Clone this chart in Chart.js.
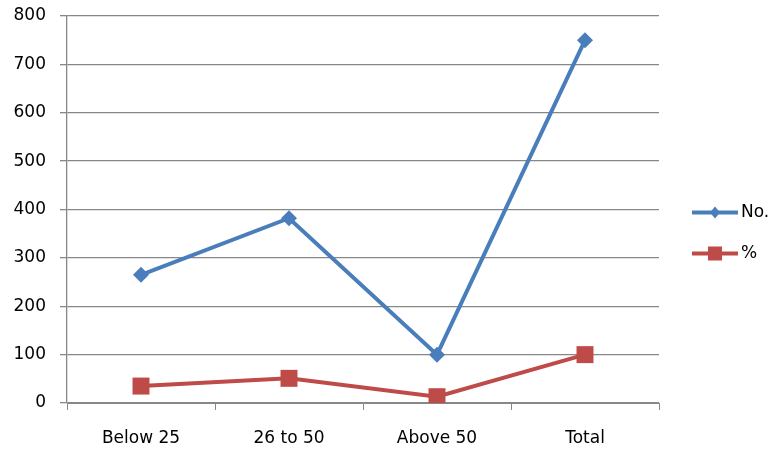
<!DOCTYPE html>
<html>
<head>
<meta charset="utf-8">
<script src="https://cdn.jsdelivr.net/npm/chart.js@4"></script>
<style>
  html, body { margin: 0; padding: 0; background: #fff; }
  #wrap { width: 772px; height: 450px; }
</style>
</head>
<body>
<div id="wrap"><canvas id="c" width="772" height="450"></canvas></div>
<script>
// Age groups and counts
const categories = ['Below 25', '26 to 50', 'Above 50', 'Total'];
const countValues = [265, 382, 100, 750];
const percentValues = [35, 51, 13, 100];
const yTicks = [0, 100, 200, 300, 400, 500, 600, 700, 800];

const BLUE = '#4A7EBB';
const RED = '#BE4B48';
const GRID = '#878787';
const FONT = { family: '"DejaVu Sans", sans-serif', size: 17 };

// Legend drawn at the right: a short line with the series marker, then the label
const sideLegend = {
  id: 'sideLegend',
  afterDraw(chart) {
    const { ctx, chartArea } = chart;
    const x0 = chartArea.right + 33;
    const lineLen = 46;
    const yMid = (chartArea.top + chartArea.bottom) / 2 + 3;
    chart.data.datasets.forEach((ds, i) => {
      const y = yMid + i * 41;
      ctx.save();
      ctx.strokeStyle = ds.borderColor;
      ctx.lineWidth = 4;
      ctx.beginPath();
      ctx.moveTo(x0, y);
      ctx.lineTo(x0 + lineLen, y);
      ctx.stroke();
      ctx.fillStyle = ds.backgroundColor;
      const cx = x0 + lineLen / 2;
      if (ds.pointStyle === 'rect') {
        ctx.fillRect(cx - 7, y - 7, 14, 14);
      } else {
        ctx.beginPath();
        ctx.moveTo(cx, y - 6);
        ctx.lineTo(cx + 5, y);
        ctx.lineTo(cx, y + 6);
        ctx.lineTo(cx - 5, y);
        ctx.closePath();
        ctx.fill();
      }
      ctx.fillStyle = '#000';
      ctx.font = FONT.size + 'px ' + FONT.family;
      ctx.textBaseline = 'middle';
      ctx.textAlign = 'left';
      ctx.fillText(ds.label, x0 + lineLen + 3, y);
      ctx.restore();
    });
  }
};

new Chart(document.getElementById('c'), {
  type: 'line',
  data: {
    labels: categories,
    datasets: [
      {
        label: 'No.',
        data: countValues,
        borderColor: BLUE,
        backgroundColor: BLUE,
        borderWidth: 4,
        pointStyle: 'rectRot',
        pointRadius: 8,
        pointHoverRadius: 8,
        pointBorderWidth: 0,
        tension: 0
      },
      {
        label: '%',
        data: percentValues,
        borderColor: RED,
        backgroundColor: RED,
        borderWidth: 4,
        pointStyle: 'rect',
        pointRadius: 12,
        pointHoverRadius: 12,
        pointBorderWidth: 0,
        tension: 0
      }
    ]
  },
  options: {
    responsive: false,
    animation: false,
    layout: { autoPadding: false, padding: { top: 16, right: 113, left: 10, bottom: 0 } },
    plugins: {
      legend: { display: false },
      tooltip: { enabled: false }
    },
    scales: {
      x: {
        offset: true,
        grid: {
          offset: true,
          drawOnChartArea: false,
          drawTicks: true,
          tickLength: 7,
          color: GRID,
          lineWidth: 1
        },
        border: { display: true, color: GRID, width: 1 },
        ticks: { color: '#000', font: FONT, padding: 18, maxRotation: 0 },
        afterFit(s) { s.height = 47; }
      },
      y: {
        min: 0,
        max: 800,
        afterBuildTicks(s) { s.ticks = yTicks.map(v => ({ value: v })); },
        grid: {
          color: GRID,
          lineWidth: 1.3,
          tickLength: 7,
          drawTicks: true
        },
        border: { display: true, color: GRID, width: 1.3 },
        ticks: { color: '#000', font: FONT, padding: 14 },
        afterFit(s) { s.width = 57; s.paddingTop = 0; s.paddingBottom = 0; }
      }
    }
  },
  plugins: [sideLegend]
});
</script>
</body>
</html>
